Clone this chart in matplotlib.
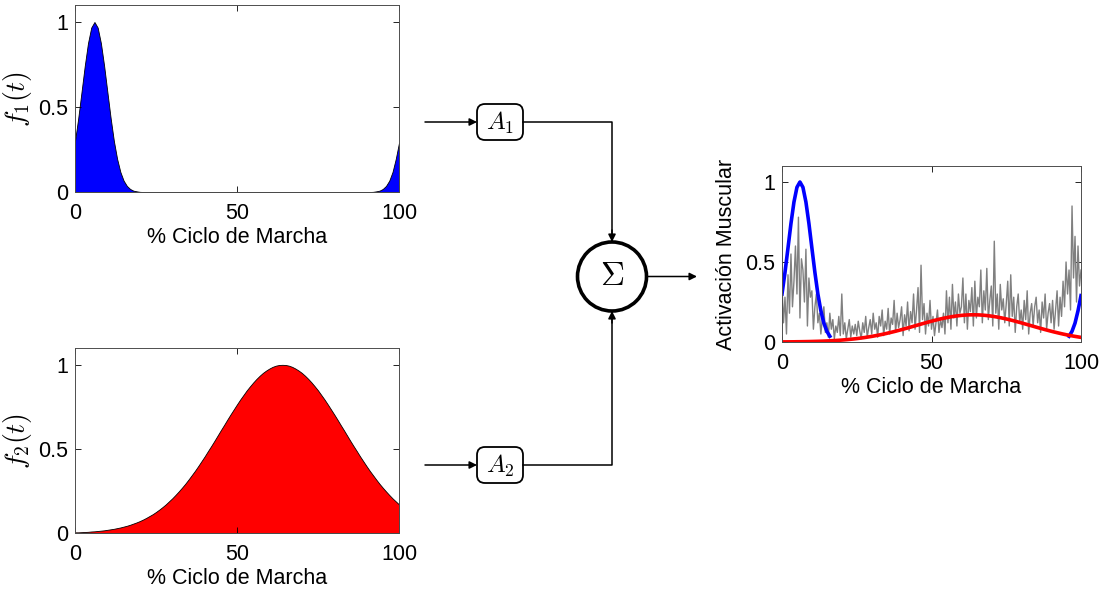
import numpy as np
import matplotlib
matplotlib.use("Agg")
import matplotlib.pyplot as plt
from matplotlib.patches import FancyBboxPatch, Circle

plt.rcParams['font.family'] = ['Liberation Sans', 'DejaVu Sans']
plt.rcParams['mathtext.fontset'] = 'cm'

# % ciclo de marcha, paso de 1 %
ciclo = np.arange(0, 101, 1)

# patron 1: pico al inicio del ciclo (se repite al final)
f1 = [0.30, 0.435, 0.587, 0.741, 0.875, 0.967, 1.0, 0.967, 0.875, 0.741,
      0.587, 0.435, 0.30, 0.195, 0.118, 0.067, 0.036, 0.018, 0.008, 0.004,
      0.001] + [0.0] * 71 + [0.001, 0.004, 0.008, 0.018, 0.036, 0.067,
                             0.118, 0.195, 0.29]

# patron 2: campana ancha centrada en ~64 %
f2 = [0.004, 0.004, 0.005, 0.006, 0.007, 0.009, 0.010, 0.012, 0.014, 0.016,
      0.019, 0.022, 0.025, 0.029, 0.033, 0.038, 0.043, 0.049, 0.056, 0.063,
      0.071, 0.080, 0.090, 0.101, 0.112, 0.125, 0.139, 0.154, 0.170, 0.188,
      0.206, 0.226, 0.247, 0.269, 0.292, 0.317, 0.343, 0.369, 0.397, 0.426,
      0.455, 0.486, 0.516, 0.547, 0.579, 0.611, 0.642, 0.674, 0.705, 0.735,
      0.765, 0.794, 0.821, 0.848, 0.872, 0.895, 0.916, 0.935, 0.952, 0.966,
      0.978, 0.988, 0.995, 0.999, 1.0, 0.999, 0.995, 0.988, 0.978, 0.966,
      0.952, 0.935, 0.916, 0.895, 0.872, 0.848, 0.821, 0.794, 0.765, 0.735,
      0.705, 0.674, 0.642, 0.611, 0.579, 0.547, 0.516, 0.486, 0.455, 0.426,
      0.397, 0.369, 0.343, 0.317, 0.292, 0.269, 0.247, 0.226, 0.206, 0.188,
      0.170]

# pesos de cada patron
A1 = 1.0
A2 = 0.17

# EMG rectificada, paso de 0.5 %
ciclo_emg = np.arange(0, 100.5, 0.5)
emg = [0.35, 0.12, 0.28, 0.05, 0.42, 0.18, 0.55, 0.22, 0.38, 0.60,
       0.30, 0.78, 0.15, 0.52, 0.45, 0.25, 0.58, 0.10, 0.40, 0.28,
       0.32, 0.08, 0.22, 0.30, 0.12, 0.18, 0.05, 0.15, 0.22, 0.06,
       0.12, 0.03, 0.18, 0.08, 0.14, 0.02, 0.10, 0.06, 0.16, 0.04,
       0.30, 0.05, 0.12, 0.02, 0.08, 0.14, 0.03, 0.10, 0.05, 0.11,
       0.04, 0.13, 0.07, 0.02, 0.12, 0.06, 0.16, 0.03, 0.09, 0.14,
       0.05, 0.18, 0.08, 0.12, 0.03, 0.16, 0.10, 0.20, 0.04, 0.13,
       0.08, 0.21, 0.05, 0.15, 0.11, 0.26, 0.06, 0.18, 0.09, 0.14,
       0.22, 0.04, 0.17, 0.10, 0.25, 0.07, 0.19, 0.12, 0.30, 0.08,
       0.20, 0.34, 0.06, 0.48, 0.14, 0.24, 0.05, 0.18, 0.10, 0.26,
       0.08, 0.16, 0.04, 0.12, 0.20, 0.06, 0.14, 0.09, 0.18, 0.05,
       0.32, 0.12, 0.28, 0.08, 0.36, 0.15, 0.25, 0.10, 0.30, 0.18,
       0.22, 0.40, 0.12, 0.30, 0.08, 0.26, 0.19, 0.34, 0.10, 0.38,
       0.15, 0.28, 0.22, 0.45, 0.12, 0.32, 0.20, 0.46, 0.14, 0.26,
       0.35, 0.10, 0.63, 0.18, 0.30, 0.08, 0.36, 0.20, 0.27, 0.12,
       0.24, 0.38, 0.10, 0.42, 0.16, 0.28, 0.06, 0.22, 0.30, 0.12,
       0.20, 0.08, 0.26, 0.14, 0.32, 0.05, 0.18, 0.24, 0.10, 0.22,
       0.28, 0.12, 0.20, 0.06, 0.25, 0.15, 0.30, 0.08, 0.18, 0.24,
       0.12, 0.26, 0.08, 0.20, 0.32, 0.10, 0.28, 0.16, 0.38, 0.22,
       0.50, 0.30, 0.45, 0.20, 0.85, 0.40, 0.66, 0.25, 0.60, 0.35,
       0.45]

xticks = [0, 50, 100]
yticks = [0, 0.5, 1]
xlabel = '% Ciclo de Marcha'

W, H = 1105, 604
fig = plt.figure(figsize=(W / 100, H / 100), dpi=100)

# capa de fondo en pixeles para el diagrama de bloques
ax_d = fig.add_axes([0, 0, 1, 1])
ax_d.set_xlim(0, W)
ax_d.set_ylim(H, 0)
ax_d.axis('off')


def px_axes(left, top, right, bottom):
    return fig.add_axes([left / W, 1 - bottom / H, (right - left) / W, (bottom - top) / H])


def estilo(ax, ylabel, ylab_x, ysize):
    ax.set_xlim(0, 100)
    ax.set_ylim(0, 1.1)
    ax.set_xticks(xticks)
    ax.set_yticks(yticks)
    ax.set_yticklabels(['0', '0.5', '1'])
    ax.tick_params(direction='in', length=4, width=0.6, top=True, right=True,
                   labelsize=15.5, colors='k')
    ax.tick_params(axis='x', pad=8)
    ax.tick_params(axis='y', pad=5)
    for s in ax.spines.values():
        s.set_linewidth(0.7)
        s.set_color('0.3')
    ax.set_xlabel(xlabel, fontsize=15.5, labelpad=2)
    ax.set_ylabel(ylabel, fontsize=ysize)
    ax.yaxis.set_label_coords(ylab_x, 0.5)


ax1 = px_axes(75, 5, 399, 192)
ax1.fill_between(ciclo, f1, 0, facecolor='#0000ff', edgecolor='k', linewidth=0.6)
estilo(ax1, '$f_1(t)$', -0.125, 20)

ax2 = px_axes(75, 348, 399, 533)
ax2.fill_between(ciclo, f2, 0, facecolor='#ff0000', edgecolor='k', linewidth=0.6)
estilo(ax2, '$f_2(t)$', -0.125, 20)

ax3 = px_axes(782, 166, 1081, 342)
ax3.plot(ciclo_emg, emg, color='0.5', lw=1.0)
p1 = A1 * np.array(f1)
ax3.plot(ciclo, np.where(p1 >= 0.03, p1, np.nan), color='#0000ff', lw=2.6)
ax3.plot(ciclo, A2 * np.array(f2), color='#ff0000', lw=2.6)
estilo(ax3, 'Activación Muscular', -0.15, 15.5)

# diagrama: entradas, ganancias y sumador
flecha = dict(arrowstyle='-|>', color='k', lw=1.1, mutation_scale=11,
              shrinkA=0, shrinkB=0)
cx, cy, r = 612, 276.5, 34.5
for yb, lab in [(122, '$A_1$'), (465, '$A_2$')]:
    ax_d.annotate('', xy=(477, yb), xytext=(425, yb), arrowprops=flecha)
    ax_d.add_patch(FancyBboxPatch((477, yb - 18), 46, 36,
                                  boxstyle='round,pad=0,rounding_size=8',
                                  fc='white', ec='k', lw=1.3))
    ax_d.text(500, yb + 1, lab, ha='center', va='center', fontsize=18)
    tip = cy - r if yb < cy else cy + r
    ax_d.plot([523, cx, cx], [yb, yb, tip], color='k', lw=1.1)
    ax_d.annotate('', xy=(cx, tip), xytext=(cx, tip + (-12 if yb < cy else 12)),
                  arrowprops=flecha)

ax_d.add_patch(Circle((cx, cy), r, fill=False, ec='k', lw=2.6))
ax_d.text(cx, cy, r'$\Sigma$', ha='center', va='center', fontsize=24)
ax_d.annotate('', xy=(697, cy), xytext=(cx + r, cy), arrowprops=flecha)

fig.savefig('out.png', dpi=100)
